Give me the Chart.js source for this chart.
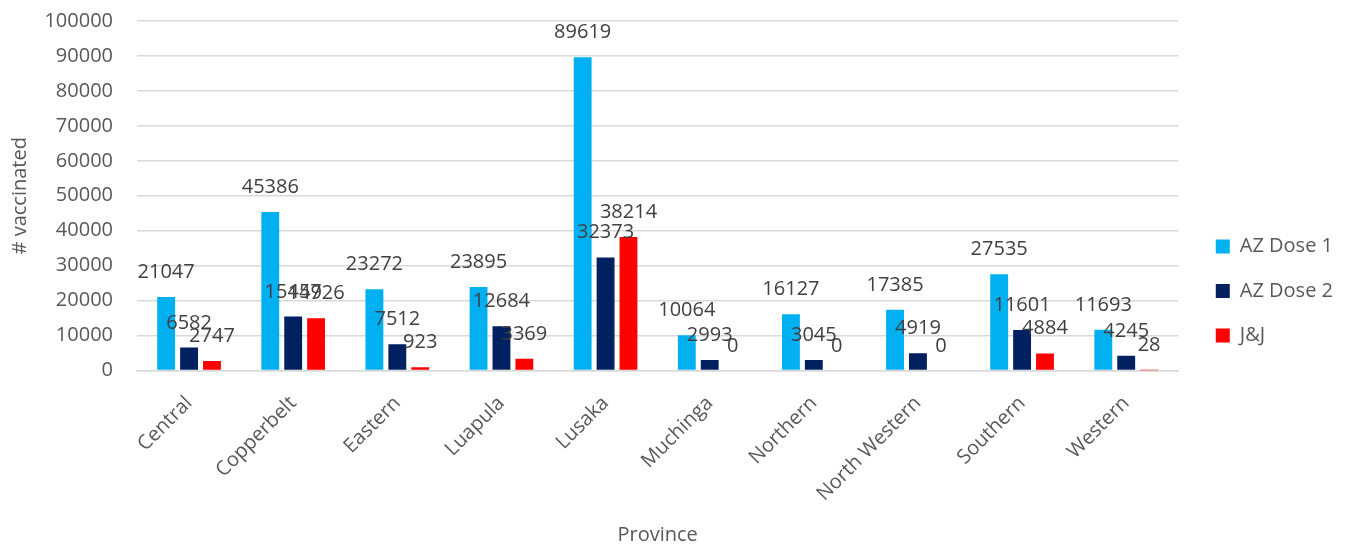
<!DOCTYPE html>
<html>
<head>
<meta charset="utf-8">
<script src="https://cdn.jsdelivr.net/npm/chart.js@4"></script>
<style>
html,body{margin:0;padding:0;background:#fff;}
#wrap{width:1348px;height:544px;}
</style>
</head>
<body>
<div id="wrap"><canvas id="c" width="1348" height="544"></canvas></div>
<script>
const provinces = ["Central","Copperbelt","Eastern","Luapula","Lusaka","Muchinga","Northern","North Western","Southern","Western"];
const azDose1 = [21047,45386,23272,23895,89619,10064,16127,17385,27535,11693];
const azDose2 = [6582,15457,7512,12684,32373,2993,3045,4919,11601,4245];
const jj = [2747,14926,923,3369,38214,0,0,0,4884,28];
const yTicksMax = 100000;
const yTicksStep = 10000;

const FONT = "'Open Sans', 'Liberation Sans', sans-serif";
const TXT = '#595959';

const dataLabels = {
  id: 'dataLabels',
  afterDatasetsDraw(chart) {
    const ctx = chart.ctx;
    ctx.save();
    ctx.font = "20px " + FONT;
    ctx.fillStyle = '#404040';
    ctx.textAlign = 'center';
    ctx.textBaseline = 'alphabetic';
    chart.data.datasets.forEach((ds, i) => {
      const meta = chart.getDatasetMeta(i);
      meta.data.forEach((el, j) => {
        ctx.fillText(String(ds.data[j]), el.x, el.y - 19);
      });
    });
    ctx.restore();
  }
};

new Chart(document.getElementById('c'), {
  type: 'bar',
  data: {
    labels: provinces,
    datasets: [
      {label: 'AZ Dose 1', data: azDose1, backgroundColor: '#00b0f0'},
      {label: 'AZ Dose 2', data: azDose2, backgroundColor: '#002060'},
      {label: 'J&J', data: jj, backgroundColor: '#ff0000'}
    ]
  },
  options: {
    responsive: false,
    animation: false,
    devicePixelRatio: 1,
    categoryPercentage: 0.66,
    barPercentage: 0.78,
    layout: {padding: {top: 0, left: 4, right: 5, bottom: -3}},
    plugins: {
      legend: {
        position: 'right',
        align: 'center',
        title: {display: true, text: ' ', font: {family: FONT, size: 26}, padding: 2},
        labels: {
          font: {family: FONT, size: 20},
          color: TXT,
          boxWidth: 14,
          boxHeight: 14,
          padding: 24.5
        }
      },
      tooltip: {enabled: false}
    },
    scales: {
      x: {
        grid: {display: false},
        border: {color: '#d9d9d9', width: 1.5},
        ticks: {
          font: {family: FONT, size: 20},
          color: TXT,
          maxRotation: 45,
          minRotation: 45,
          padding: 13
        },
        title: {
          display: true,
          text: 'Province',
          font: {family: FONT, size: 20},
          color: TXT,
          padding: {top: 4, bottom: 0}
        },
        afterFit(scale) { scale.paddingLeft = 0; scale.paddingRight = 0; }
      },
      y: {
        min: 0,
        max: yTicksMax,
        ticks: {
          stepSize: yTicksStep,
          font: {family: FONT, size: 20},
          color: TXT,
          padding: 24,
          callback: (v) => String(v)
        },
        grid: {color: '#d9d9d9', lineWidth: 1.5, drawTicks: false},
        border: {display: false},
        title: {
          display: true,
          text: '# vaccinated',
          font: {family: FONT, size: 20},
          color: TXT,
          padding: {top: 4, bottom: 4}
        },
        afterFit(scale) { scale.width = 133; scale.paddingTop = 21; }
      },
      gap: {
        type: 'linear',
        position: 'right',
        display: true,
        grid: {display: false},
        border: {display: false},
        ticks: {display: false},
        afterFit(scale) { scale.width = 13; }
      }
    }
  },
  plugins: [dataLabels]
});
</script>
</body>
</html>
